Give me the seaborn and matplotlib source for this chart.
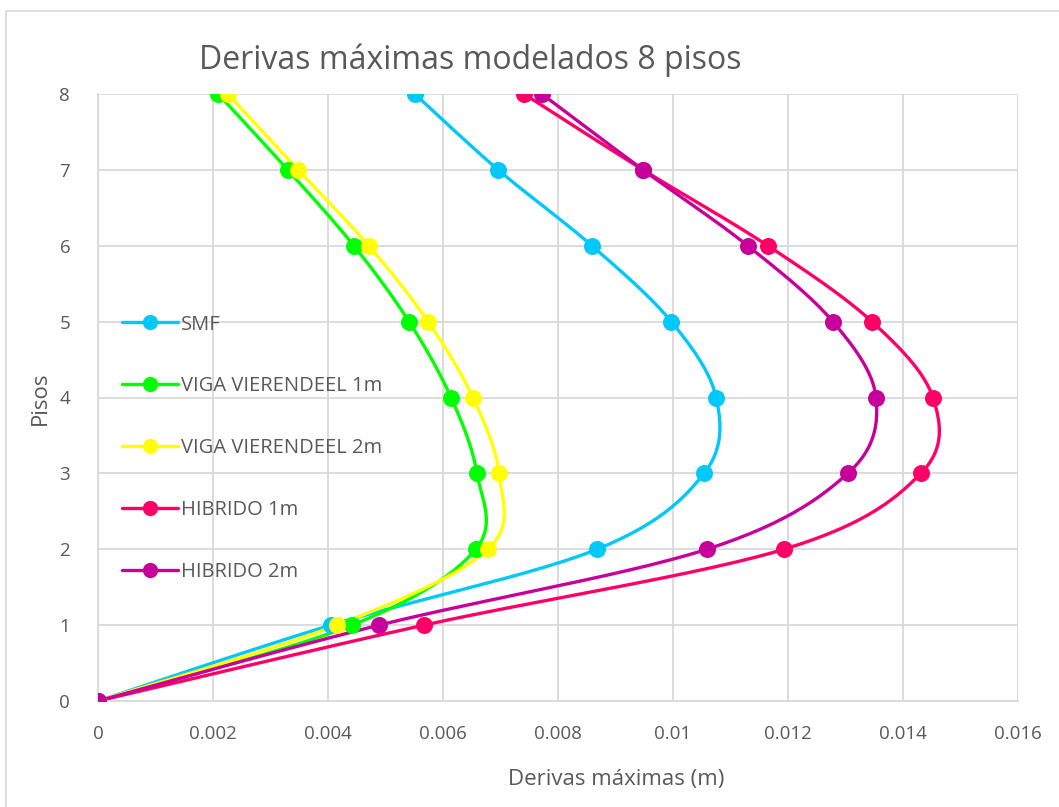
import numpy as np
import pandas as pd
import matplotlib
matplotlib.use("Agg")
import matplotlib.pyplot as plt
from matplotlib.lines import Line2D
from matplotlib.patches import Rectangle
import seaborn as sns

pisos = [0, 1, 2, 3, 4, 5, 6, 7, 8]
smf = [0, 0.00405, 0.00868, 0.01054, 0.01075, 0.00997, 0.00859, 0.00696, 0.00551]
viga1 = [0, 0.00442, 0.00657, 0.00659, 0.00614, 0.00541, 0.00445, 0.00330, 0.00209]
viga2 = [0, 0.00416, 0.00678, 0.00697, 0.00652, 0.00574, 0.00471, 0.00348, 0.00226]
hib1 = [0, 0.00567, 0.01193, 0.01431, 0.01452, 0.01346, 0.01165, 0.00948, 0.00741]
hib2 = [0, 0.00489, 0.01059, 0.01304, 0.01353, 0.01278, 0.01130, 0.00948, 0.00772]

series_names = ["SMF", "VIGA VIERENDEEL 1m", "VIGA VIERENDEEL 2m", "HIBRIDO 1m", "HIBRIDO 2m"]
series_vals = [smf, viga1, viga2, hib1, hib2]
colors = ["#00C8FA", "#00FF00", "#FFFF00", "#FF0066", "#C8009B"]

x_ticks = [0, 0.002, 0.004, 0.006, 0.008, 0.01, 0.012, 0.014, 0.016]
x_tick_labels = ["0", "0.002", "0.004", "0.006", "0.008", "0.01", "0.012", "0.014", "0.016"]


def smooth(xs, ys, n=30):
    P = np.column_stack([xs, ys]).astype(float)
    Pp = np.vstack([P[0], P, P[-1]])
    out = []
    t = np.linspace(0, 1, n)
    for i in range(1, len(Pp) - 2):
        p0, p1, p2, p3 = Pp[i - 1], Pp[i], Pp[i + 1], Pp[i + 2]
        c1 = p1 + (p2 - p0) / 6.0
        c2 = p2 - (p3 - p1) / 6.0
        seg = ((1 - t) ** 3)[:, None] * p1 + (3 * (1 - t) ** 2 * t)[:, None] * c1 \
            + (3 * (1 - t) * t ** 2)[:, None] * c2 + (t ** 3)[:, None] * p2
        out.append(seg if i == 1 else seg[1:])
    arr = np.vstack(out)
    return arr[:, 0], arr[:, 1]


sns.set_theme(style="white")
plt.rcParams['font.family'] = ['Open Sans', 'DejaVu Sans']
txt = "#595959"

fig = plt.figure(figsize=(10.59, 8.07), dpi=100)
W, H = 1059, 807
ax = fig.add_axes([98 / W, 1 - 701 / H, (1018 - 98) / W, (701 - 94) / H])

fig.patches.append(Rectangle((6 / W, -0.1), 1.2, 1.1 - 11 / H, transform=fig.transFigure,
                             fill=False, edgecolor="#D9D9D9", linewidth=1.2))

handles = []
for name, vals, c in zip(series_names, series_vals, colors):
    sx, sy = smooth(vals, pisos)
    df_s = pd.DataFrame({"x": sx, "y": sy})
    sns.lineplot(data=df_s, x="x", y="y", sort=False, estimator=None, ax=ax,
                 color=c, linewidth=2.4, legend=False)
    df_p = pd.DataFrame({"x": vals, "y": pisos})
    sns.scatterplot(data=df_p, x="x", y="y", ax=ax, color=c, s=150,
                    edgecolor=c, linewidth=0, zorder=5, legend=False)
    handles.append(Line2D([0], [0], color=c, lw=2.4, marker="o", markersize=11,
                          markeredgewidth=0, label=name))

ax.set_xlim(0, 0.016)
ax.set_ylim(0, 8)
ax.set_xticks(x_ticks)
ax.set_xticklabels(x_tick_labels)
ax.set_yticks(pisos)
ax.grid(True, color="#D9D9D9", linewidth=1.3)
ax.set_axisbelow(True)
for s in ["top", "right"]:
    ax.spines[s].set_visible(False)
for s in ["left", "bottom"]:
    ax.spines[s].set_color("#D9D9D9")
    ax.spines[s].set_linewidth(1.3)
ax.tick_params(axis="both", length=0, labelsize=13.5, labelcolor=txt)
ax.tick_params(axis="x", pad=17)
ax.tick_params(axis="y", pad=20)
ax.set_xlabel("")
ax.set_ylabel("")
fig.text(616 / W, 1 - 779 / H, "Derivas máximas (m)", ha="center", va="center",
         fontsize=16, color=txt)
fig.text(40 / W, 1 - 398 / H, "Pisos", ha="center", va="center", rotation=90,
         fontsize=16, color=txt)

fig.text(470 / W, 1 - 60 / H, "Derivas máximas modelados 8 pisos", ha="center", va="center",
         fontsize=23, color=txt)

leg = ax.legend(handles=handles, loc="upper left", bbox_to_anchor=(0.0175, 0.65),
                frameon=False, fontsize=14.5, labelspacing=2.08, handlelength=2.75,
                handletextpad=0.15, borderaxespad=0)
for t in leg.get_texts():
    t.set_color(txt)

fig.savefig("out.png", dpi=100)
